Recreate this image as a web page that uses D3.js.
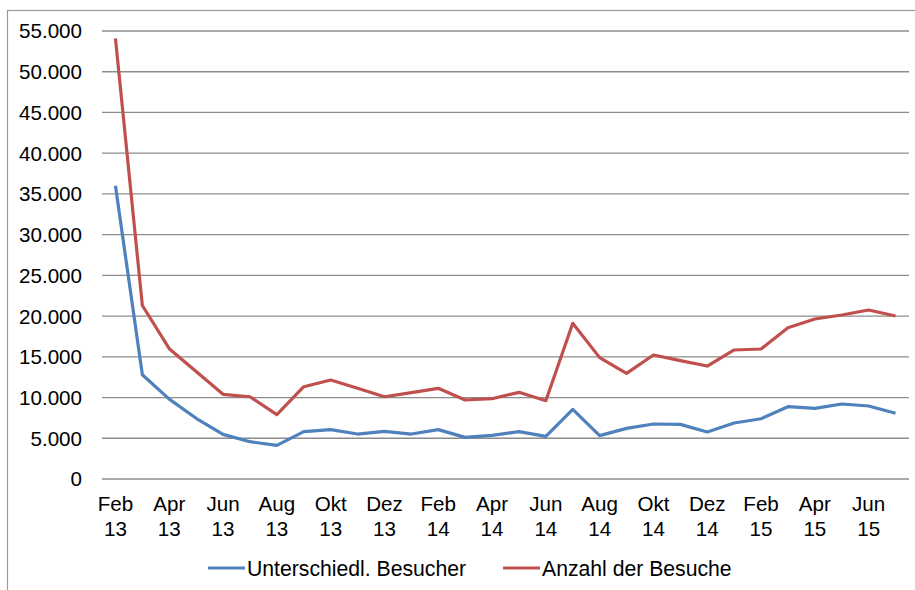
<!DOCTYPE html>
<html>
<head>
<meta charset="utf-8">
<style>
  body { margin: 0; background: #fff; }
  svg text { font-family: "Liberation Sans", Arial, sans-serif; fill: #000; }
</style>
</head>
<body>
<svg width="915" height="590"></svg>
<script src="https://d3js.org/d3.v7.min.js"></script>
<script>

// months Feb 13 .. Jul 15
var months = ["Feb 13","Mär 13","Apr 13","Mai 13","Jun 13","Jul 13","Aug 13","Sep 13","Okt 13","Nov 13","Dez 13",
  "Jan 14","Feb 14","Mär 14","Apr 14","Mai 14","Jun 14","Jul 14","Aug 14","Sep 14","Okt 14","Nov 14","Dez 14",
  "Jan 15","Feb 15","Mär 15","Apr 15","Mai 15","Jun 15","Jul 15"];

var besucher = [36000, 12800, 9800, 7450, 5480, 4580, 4130, 5810, 6060, 5520, 5850,
  5520, 6060, 5110, 5360, 5810, 5240, 8550, 5320, 6220, 6750, 6710, 5770,
  6870, 7400, 8880, 8680, 9210, 8960, 8070];

var besuche = [54100, 21300, 16000, 13200, 10400, 10100, 7900, 11330, 12150, 11130, 10100,
  10600, 11130, 9700, 9860, 10640, 9610, 19110, 14900, 12970, 15220, 14530, 13870,
  15840, 15960, 18580, 19640, 20130, 20750, 20010];

var yTicks = [0, 5000, 10000, 15000, 20000, 25000, 30000, 35000, 40000, 45000, 50000, 55000];

var seriesNames = ["Unterschiedl. Besucher", "Anzahl der Besuche"];
var colors = ["#4F81BD", "#C0504D"];

var svg = d3.select("svg");

// outer frame
svg.append("rect")
  .attr("x", 7.5).attr("y", 10.5)
  .attr("width", 930).attr("height", 600)
  .attr("fill", "none").attr("stroke", "#9a9a9a").attr("stroke-width", 1.2);

var plotL = 102, plotR = 909, plotT = 31, plotB = 479;

var x = d3.scaleBand().domain(months).range([plotL, plotR]);
var y = d3.scaleLinear().domain([0, 55000]).range([plotB, plotT]);

// gridlines
svg.append("g")
  .selectAll("line")
  .data(yTicks)
  .enter()
  .append("line")
  .attr("x1", plotL).attr("x2", plotR)
  .attr("y1", function(d) { return y(d); })
  .attr("y2", function(d) { return y(d); })
  .attr("stroke", "#8c8c8c")
  .attr("stroke-width", 1.3);

// y labels
var fmt = function(d) { return d === 0 ? "0" : d3.format(",")(d).replace(/,/g, "."); };
svg.append("g")
  .selectAll("text")
  .data(yTicks)
  .enter()
  .append("text")
  .attr("x", 82)
  .attr("y", function(d) { return y(d); })
  .attr("dy", "0.36em")
  .attr("text-anchor", "end")
  .style("font-size", "20.6px")
  .text(fmt);

// x labels every second month
var xl = svg.append("g")
  .selectAll("text")
  .data(months.filter(function(d, i) { return i % 2 === 0; }))
  .enter()
  .append("text")
  .attr("text-anchor", "middle")
  .style("font-size", "20.6px");

xl.append("tspan")
  .attr("x", function(d) { return x(d) + x.bandwidth() / 2; })
  .attr("y", 511)
  .text(function(d) { return d.split(" ")[0]; });
xl.append("tspan")
  .attr("x", function(d) { return x(d) + x.bandwidth() / 2; })
  .attr("y", 536)
  .text(function(d) { return d.split(" ")[1]; });

// lines
var line = d3.line()
  .x(function(d, i) { return x(months[i]) + x.bandwidth() / 2; })
  .y(function(d) { return y(d); });

[besucher, besuche].forEach(function(s, k) {
  svg.append("path")
    .datum(s)
    .attr("d", line)
    .attr("fill", "none")
    .attr("stroke", colors[k])
    .attr("stroke-width", 3.2)
    .attr("stroke-linejoin", "round");
});

// legend
var legendX = [208, 503];
var lg = svg.append("g")
  .selectAll("g")
  .data(seriesNames)
  .enter()
  .append("g")
  .attr("transform", function(d, i) { return "translate(" + legendX[i] + ",568)"; });

lg.append("line")
  .attr("x1", 0).attr("x2", 37)
  .attr("stroke", function(d, i) { return colors[i]; })
  .attr("stroke-width", 3.2);

lg.append("text")
  .attr("x", 39)
  .attr("dy", "0.36em")
  .style("font-size", "21.2px")
  .text(function(d) { return d; });

</script>
</body>
</html>
